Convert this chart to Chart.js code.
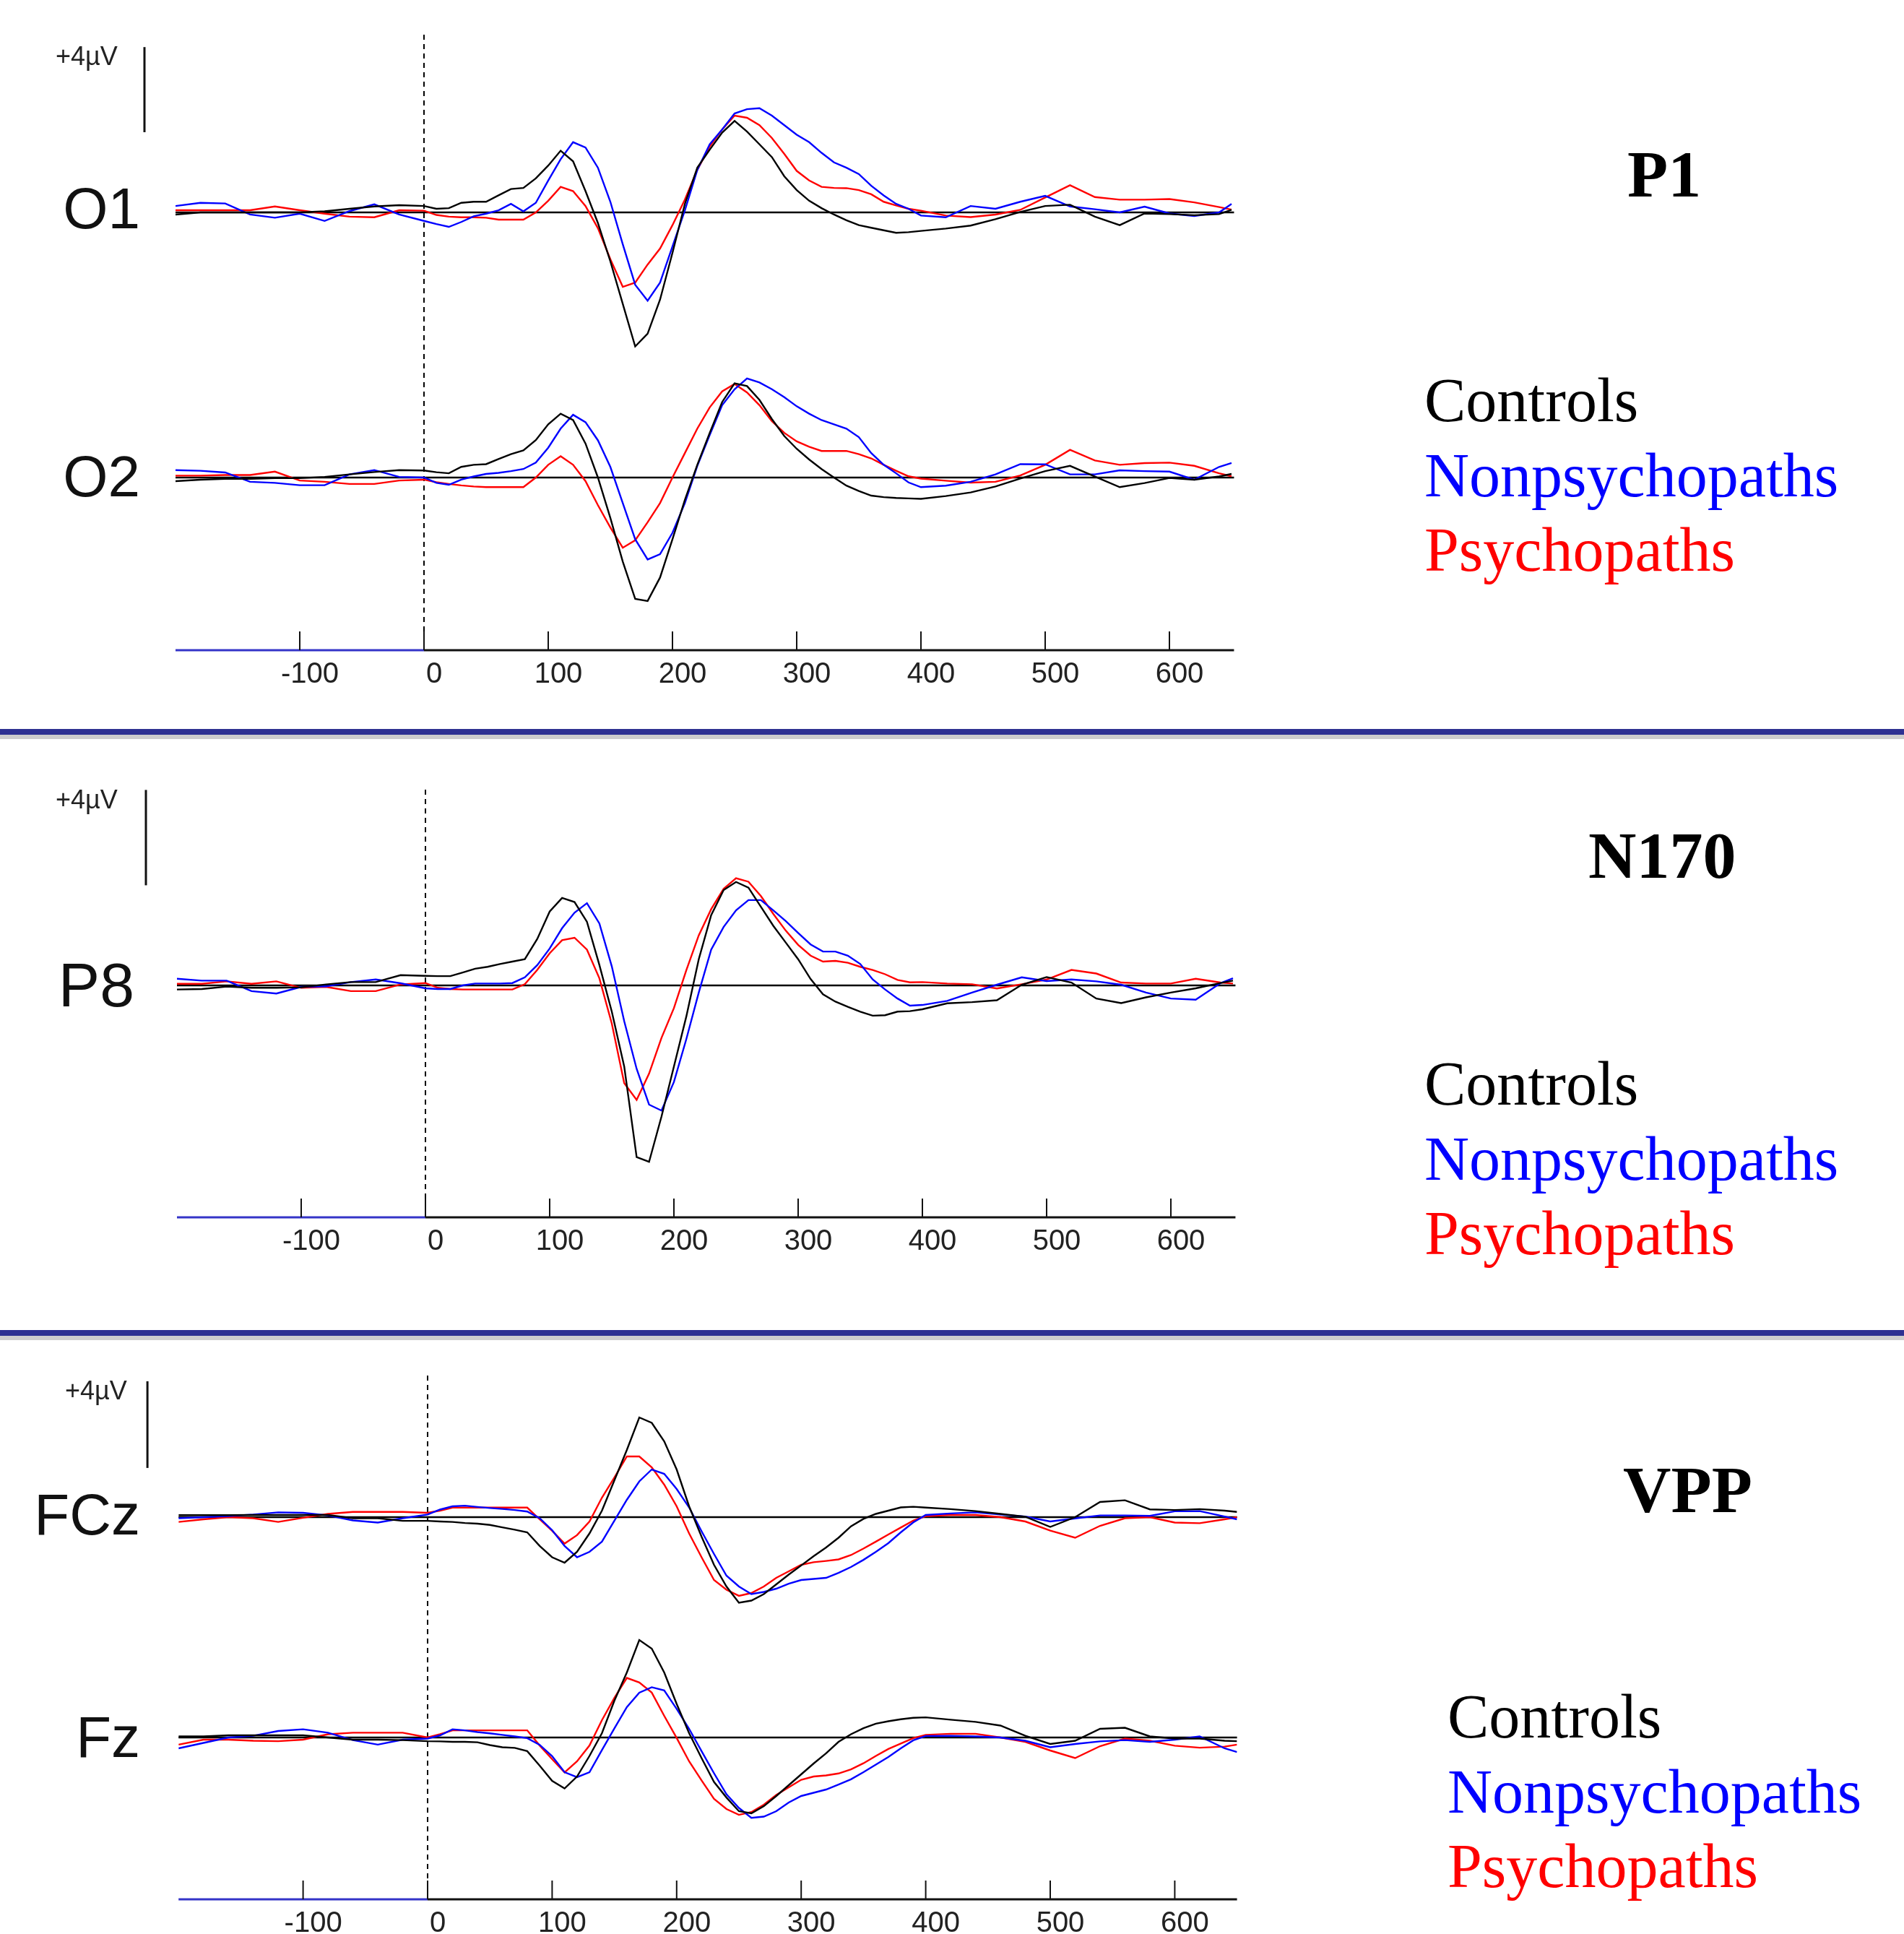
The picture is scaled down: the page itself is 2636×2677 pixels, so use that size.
<!DOCTYPE html>
<html>
<head>
<meta charset="utf-8">
<title>ERP waveforms: P1, N170, VPP</title>
<script src="https://cdn.jsdelivr.net/npm/chart.js@4.4.1/dist/chart.umd.min.js"></script>
<style>
  html, body { margin: 0; padding: 0; background: #fff; }
  body { position: relative; width: 2636px; height: 2677px; overflow: hidden; }
  canvas { position: absolute; left: 0; }
  .t { position: absolute; white-space: nowrap; margin: 0; }
  .chan { left: 0; width: 194px; text-align: right; font: 80px/80px "Liberation Sans", Arial, sans-serif; color: #111; }
  .unit { font: 36px/36px "Liberation Sans", Arial, sans-serif; color: #222; }
  .comp { font: bold 92px/92px "Liberation Serif", "Times New Roman", serif; color: #000; }
  .grp { font: 86px/86px "Liberation Serif", "Times New Roman", serif; }
  .sep { position: absolute; left: 0; width: 2636px; height: 8px; background: #2e3192; border-bottom: 6px solid #cdcdcd; }
</style>
</head>
<body>
<div class="sep" style="top:1009px"></div>
<div class="sep" style="top:1841px"></div>

<canvas id="p1" width="2636" height="970" style="top:0px"></canvas>
<canvas id="p2" width="2636" height="725" style="top:1030px"></canvas>
<canvas id="p3" width="2636" height="817" style="top:1860px"></canvas>

<div class="t unit" style="left:77px;top:60px">+4µV</div>
<div class="t unit" style="left:77px;top:1089px">+4µV</div>
<div class="t unit" style="left:90px;top:1907px">+4µV</div>

<div class="t chan" style="top:249px">O1</div>
<div class="t chan" style="top:620px">O2</div>
<div class="t chan" style="top:1320px;width:186px;font-size:86px;line-height:86px">P8</div>
<div class="t chan" style="top:2057px">FCz</div>
<div class="t chan" style="top:2365px">Fz</div>

<div class="t comp" style="left:2253px;top:195px">P1</div>
<div class="t comp" style="left:2199px;top:1138px">N170</div>
<div class="t comp" style="left:2247px;top:2016px">VPP</div>

<div id="legends"></div>

<script>
// sample times (ms), finer through the components
const times = [-200, -180, -160, -140, -120, -100, -80, -60, -40, -20,
  0, 10, 20, 30, 40, 50, 60, 70, 80, 90,
  100, 110, 120, 130, 140, 150, 160, 170, 180, 190,
  200, 210, 220, 230, 240, 250, 260, 270, 280, 290,
  300, 310, 320, 330, 340, 350, 360, 370, 380, 390,
  400,
  420, 440, 460, 480, 500, 520, 540, 560, 580, 600, 620, 640, 650];

const tickValues = [-100, 0, 100, 200, 300, 400, 500, 600];
const groupNames = ['Controls', 'Nonpsychopaths', 'Psychopaths'];
const groupColors = ['#000000', '#0000ff', '#ff0000'];

// amplitudes in µV, one value per sample time
const o1Ctl = [-0.1, 0, 0, 0, 0, 0, 0.05, 0.17, 0.28, 0.34,
  0.3, 0.17, 0.2, 0.45, 0.5, 0.5, 0.8, 1.1, 1.15, 1.6,
  2.2, 2.9, 2.4, 1.0, -0.5, -2.3, -4.3, -6.3, -5.7, -4.1,
  -1.9, 0.4, 2.1, 2.95, 3.75, 4.3, 3.8, 3.2, 2.6, 1.7,
  1.05, 0.55, 0.2, -0.1, -0.37, -0.6, -0.72, -0.84, -0.96, -0.93,
  -0.87,
  -0.76, -0.62, -0.32, 0.02, 0.3, 0.36, -0.2, -0.6, -0.05, -0.08, -0.13, -0.08, 0.12];
const o1Non = [0.3, 0.45, 0.42, -0.1, -0.25, -0.06, -0.4, 0.06, 0.38, -0.1,
  -0.4, -0.55, -0.68, -0.45, -0.18, -0.06, 0.1, 0.4, 0.05, 0.45,
  1.5, 2.5, 3.3, 3.05, 2.1, 0.5, -1.5, -3.4, -4.15, -3.3,
  -1.6, 0.1, 2.0, 3.2, 3.9, 4.65, 4.85, 4.9, 4.55, 4.1,
  3.65, 3.3, 2.8, 2.35, 2.1, 1.8, 1.25, 0.8, 0.4, 0.17,
  -0.15,
  -0.23, 0.3, 0.17, 0.5, 0.78, 0.28, 0.15, 0.0, 0.27, -0.05, -0.17, 0.0, 0.4];
const o1Psy = [0.1, 0.1, 0.1, 0.1, 0.28, 0.1, -0.06, -0.2, -0.23, 0.1,
  0.08, -0.12, -0.2, -0.23, -0.23, -0.25, -0.34, -0.34, -0.34, 0.0,
  0.55, 1.2, 1.0, 0.3, -0.74, -2.2, -3.5, -3.3, -2.45, -1.7,
  -0.6, 0.6, 2.0, 3.1, 3.9, 4.55, 4.45, 4.1, 3.5, 2.75,
  1.95, 1.5, 1.2, 1.15, 1.14, 1.05, 0.85, 0.5, 0.33, 0.17,
  0.08,
  -0.15, -0.22, -0.1, 0.12, 0.7, 1.28, 0.72, 0.6, 0.6, 0.63, 0.47, 0.25, 0.13];

const o2Ctl = [-0.17, -0.1, -0.06, -0.06, -0.03, -0.03, 0.03, 0.15, 0.26, 0.35,
  0.33, 0.25, 0.2, 0.5, 0.6, 0.63, 0.87, 1.1, 1.28, 1.76,
  2.5, 3.0, 2.7, 1.6, 0.0, -1.9, -3.95, -5.7, -5.8, -4.7,
  -2.9, -1.05, 0.6, 2.1, 3.55, 4.43, 4.3, 3.65, 2.75, 1.95,
  1.35, 0.85, 0.4, 0.0, -0.38, -0.63, -0.85, -0.92, -0.96, -0.98,
  -1.0,
  -0.87, -0.7, -0.42, -0.05, 0.3, 0.55, 0.05, -0.45, -0.26, -0.02, -0.1, 0.05, 0.17];
const o2Non = [0.35, 0.32, 0.24, -0.2, -0.25, -0.36, -0.36, 0.15, 0.35, 0.03,
  0.0, -0.25, -0.34, -0.1, 0.05, 0.17, 0.22, 0.3, 0.4, 0.7,
  1.4, 2.3, 2.95, 2.6, 1.75, 0.5, -1.2, -2.9, -3.85, -3.6,
  -2.6, -1.2, 0.55, 2.0, 3.4, 4.15, 4.66, 4.47, 4.15, 3.78,
  3.35, 3.0, 2.7, 2.5, 2.3, 1.9, 1.15, 0.6, 0.2, -0.23,
  -0.45,
  -0.38, -0.2, 0.15, 0.63, 0.62, 0.15, 0.15, 0.34, 0.3, 0.28, -0.1, 0.5, 0.68];
const o2Psy = [0.09, 0.09, 0.12, 0.12, 0.28, -0.14, -0.2, -0.3, -0.3, -0.14,
  -0.1, -0.22, -0.3, -0.37, -0.42, -0.45, -0.45, -0.45, -0.45, 0.0,
  0.6, 1.0, 0.6, -0.17, -1.3, -2.35, -3.3, -2.95, -2.1, -1.2,
  0.0, 1.15, 2.3, 3.3, 4.05, 4.4, 4.0, 3.4, 2.65, 2.1,
  1.7, 1.45, 1.25, 1.25, 1.25, 1.1, 0.9, 0.6, 0.32, 0.06,
  -0.05,
  -0.15, -0.24, -0.2, 0.1, 0.6, 1.3, 0.8, 0.6, 0.68, 0.7, 0.55, 0.2, 0.06];

const p8Ctl = [-0.17, -0.15, -0.05, -0.1, -0.1, -0.08, 0.04, 0.14, 0.14, 0.43,
  0.4, 0.39, 0.39, 0.54, 0.7, 0.78, 0.9, 1.0, 1.1, 1.95,
  3.1, 3.67, 3.5, 2.67, 0.86, -1.1, -3.4, -7.2, -7.4, -5.5,
  -3.4, -1.3, 1.1, 2.95, 4.0, 4.34, 4.1, 3.3, 2.5, 1.8,
  1.1, 0.27, -0.37, -0.68, -0.9, -1.1, -1.27, -1.25, -1.1, -1.08,
  -1.0,
  -0.75, -0.7, -0.62, 0.03, 0.35, 0.12, -0.55, -0.74, -0.5, -0.3, -0.12, 0.1, 0.2];
const p8Non = [0.28, 0.2, 0.2, -0.24, -0.34, -0.06, -0.04, 0.14, 0.25, 0.09,
  -0.12, -0.15, -0.15, 0.0, 0.08, 0.08, 0.08, 0.1, 0.34, 0.85,
  1.55, 2.4, 3.05, 3.45, 2.6, 0.8, -1.5, -3.5, -5.0, -5.25,
  -4.05, -2.25, -0.3, 1.5, 2.45, 3.15, 3.58, 3.58, 3.15, 2.7,
  2.2, 1.72, 1.42, 1.42, 1.25, 0.9, 0.25, -0.17, -0.55, -0.85,
  -0.82,
  -0.65, -0.3, 0.03, 0.34, 0.18, 0.25, 0.17, 0.03, -0.3, -0.55, -0.6, 0.1, 0.3];
const p8Psy = [0.07, 0.07, 0.17, 0.07, 0.17, -0.1, -0.06, -0.24, -0.24, 0.04,
  0.1, -0.1, -0.15, -0.17, -0.17, -0.17, -0.17, -0.17, 0.05, 0.65,
  1.35, 1.9, 2.0, 1.5, 0.3, -1.6, -4.1, -4.8, -3.7, -2.2,
  -0.95, 0.64, 2.1, 3.2, 4.05, 4.5, 4.35, 3.75, 3.0, 2.3,
  1.7, 1.25, 1.0, 1.03, 0.95, 0.78, 0.65, 0.47, 0.23, 0.13,
  0.14,
  0.08, 0.05, -0.13, 0.05, 0.25, 0.65, 0.5, 0.12, 0.08, 0.08, 0.28, 0.12, 0.08];

const fczCtl = [0.09, 0.09, 0.09, 0.1, 0.1, 0.1, 0.1, -0.05, -0.05, -0.17,
  -0.17, -0.2, -0.22, -0.27, -0.3, -0.36, -0.47, -0.58, -0.7, -1.33,
  -1.85, -2.1, -1.6, -0.75, 0.3, 1.7, 3.1, 4.6, 4.35, 3.5,
  2.2, 0.5, -0.9, -2.2, -3.2, -3.95, -3.85, -3.55, -3.1, -2.65,
  -2.23, -1.8, -1.4, -0.95, -0.42, -0.08, 0.15, 0.3, 0.45, 0.48,
  0.44,
  0.37, 0.28, 0.15, 0.02, -0.45, 0.0, 0.7, 0.78, 0.36, 0.33, 0.37, 0.3, 0.24];
const fczNon = [-0.05, 0.0, 0.05, 0.12, 0.22, 0.2, 0.08, -0.15, -0.25, -0.05,
  0.12, 0.35, 0.5, 0.53, 0.47, 0.42, 0.38, 0.33, 0.26, -0.05,
  -0.6, -1.33, -1.85, -1.6, -1.13, -0.16, 0.8, 1.65, 2.2, 2.0,
  1.3, 0.45, -0.65, -1.7, -2.7, -3.2, -3.55, -3.45, -3.3, -3.07,
  -2.9, -2.85, -2.8, -2.57, -2.3, -1.97, -1.6, -1.2, -0.7, -0.24,
  0.1,
  0.17, 0.22, 0.12, 0.03, -0.2, -0.06, 0.08, 0.08, 0.06, 0.27, 0.28, 0.03, -0.1];
const fczPsy = [-0.22, -0.1, 0.0, -0.05, -0.22, -0.03, 0.15, 0.24, 0.24, 0.24,
  0.2, 0.3, 0.44, 0.44, 0.44, 0.44, 0.44, 0.44, 0.44, -0.1,
  -0.63, -1.22, -0.83, -0.2, 0.9, 1.83, 2.8, 2.8, 2.3, 1.5,
  0.5, -0.75, -1.85, -2.9, -3.35, -3.63, -3.5, -3.2, -2.8, -2.5,
  -2.2, -2.08, -2.02, -1.95, -1.75, -1.45, -1.13, -0.8, -0.48, -0.16,
  0.05,
  0.1, 0.1, 0.0, -0.2, -0.62, -0.95, -0.4, -0.05, 0.0, -0.25, -0.28, -0.1, 0.0];

const fzCtl = [0.05, 0.05, 0.1, 0.1, 0.1, 0.1, 0.0, -0.1, -0.1, -0.12,
  -0.17, -0.18, -0.2, -0.2, -0.22, -0.35, -0.45, -0.48, -0.63, -1.3,
  -2.0, -2.35, -1.8, -0.85, 0.2, 1.7, 3.0, 4.5, 4.1, 3.0,
  1.55, 0.2, -0.95, -2.05, -2.77, -3.4, -3.5, -3.17, -2.7, -2.2,
  -1.7, -1.2, -0.73, -0.2, 0.15, 0.43, 0.64, 0.75, 0.84, 0.91,
  0.93,
  0.82, 0.72, 0.55, 0.08, -0.3, -0.15, 0.4, 0.45, 0.05, -0.05, -0.05, -0.15, -0.17];
const fzNon = [-0.5, -0.25, 0.0, 0.08, 0.3, 0.38, 0.22, -0.12, -0.33, -0.1,
  -0.05, 0.1, 0.38, 0.33, 0.25, 0.19, 0.12, 0.05, -0.03, -0.34,
  -0.86, -1.6, -1.83, -1.6, -0.58, 0.42, 1.4, 2.07, 2.32, 2.17,
  1.32, 0.4, -0.63, -1.65, -2.62, -3.25, -3.71, -3.65, -3.4, -3.0,
  -2.7, -2.55, -2.4, -2.17, -1.93, -1.6, -1.25, -0.9, -0.5, -0.13,
  0.07,
  0.08, 0.05, 0.0, -0.15, -0.45, -0.3, -0.18, -0.12, -0.2, -0.1, 0.05, -0.5, -0.67];
const fzPsy = [-0.33, -0.1, -0.1, -0.15, -0.17, -0.1, 0.15, 0.22, 0.22, 0.22,
  0.0, 0.15, 0.33, 0.33, 0.33, 0.33, 0.33, 0.33, 0.33, -0.37,
  -1.0, -1.61, -1.1, -0.37, 0.8, 1.83, 2.75, 2.54, 2.07, 1.0,
  -0.02, -1.1, -1.98, -2.83, -3.3, -3.57, -3.44, -3.1, -2.65, -2.3,
  -1.95, -1.8, -1.75, -1.66, -1.47, -1.19, -0.85, -0.53, -0.28, -0.03,
  0.12,
  0.17, 0.17, 0.0, -0.2, -0.6, -0.95, -0.4, -0.05, -0.15, -0.38, -0.47, -0.42, -0.33];

// layout of the three panels (page pixels)
const panels = [
  { id: 'p1', top: 0, height: 970, padTop: 48, axisH: 70, x0: 587, msPx: 1.72, xMin: -200, xMax: 652,
    uvPx: 29.45, barFrom: 3.77, legendLeft: 1972, legendTop: 511,
    channels: [{ name: 'O1', base: 294, series: [o1Ctl, o1Non, o1Psy] },
               { name: 'O2', base: 661, series: [o2Ctl, o2Non, o2Psy] }] },
  { id: 'p2', top: 1030, height: 725, padTop: 63, axisH: 70, x0: 589, msPx: 1.72, xMin: -200, xMax: 652,
    uvPx: 33, barFrom: 4.2, legendLeft: 1972, legendTop: 1457,
    channels: [{ name: 'P8', base: 1364, series: [p8Ctl, p8Non, p8Psy] }] },
  { id: 'p3', top: 1860, height: 817, padTop: 44, axisH: 48, x0: 592, msPx: 1.724, xMin: -200, xMax: 650,
    uvPx: 30, barFrom: 2.27, legendLeft: 2004, legendTop: 2333,
    channels: [{ name: 'FCz', base: 2100, series: [fczCtl, fczNon, fczPsy] },
               { name: 'Fz', base: 2405, series: [fzCtl, fzNon, fzPsy] }] }
];

// baselines, onset marker, time axis and calibration bar
const erpFrame = {
  id: 'erpFrame',
  beforeDatasetsDraw(chart, args, opts) {
    const { ctx, chartArea: area, scales } = chart;
    const x = scales.x;
    const xl = x.getPixelForValue(x.min), xr = x.getPixelForValue(x.max), x0 = x.getPixelForValue(0);
    const seg = (a, b, c, d) => { ctx.beginPath(); ctx.moveTo(a, b); ctx.lineTo(c, d); ctx.stroke(); };
    ctx.save();
    ctx.strokeStyle = '#000';
    ctx.lineWidth = 2.5;
    opts.channels.forEach(id => {
      const y = scales[id].getPixelForValue(0);
      seg(xl, y, xr, y);
    });
    ctx.lineWidth = 2;
    ctx.setLineDash([7, 6]);
    seg(x0, area.top, x0, area.bottom);
    ctx.setLineDash([]);
    ctx.lineWidth = 3;
    ctx.strokeStyle = '#3434c8';
    seg(xl, area.bottom, x0, area.bottom);
    ctx.strokeStyle = '#111';
    seg(x0, area.bottom, xr, area.bottom);
    ctx.lineWidth = 2;
    tickValues.forEach(v => {
      const px = x.getPixelForValue(v);
      seg(px, area.bottom, px, area.bottom - 26);
    });
    const ys = scales[opts.channels[0]];
    const bx = x.getPixelForValue(opts.barAt);
    ctx.lineWidth = 3;
    seg(bx, ys.getPixelForValue(opts.barFrom), bx, ys.getPixelForValue(opts.barFrom + 4));
    ctx.restore();
  }
};

function buildPanel(p) {
  const top = p.top + p.padTop;
  const bottom = p.top + p.height - p.axisH;
  const scales = {
    x: {
      type: 'linear', min: p.xMin, max: p.xMax,
      grid: { display: false }, border: { display: false },
      afterBuildTicks: s => { s.ticks = tickValues.map(v => ({ value: v })); },
      afterFit: s => { s.height = p.axisH; },
      ticks: { padding: 2, labelOffset: 14, autoSkip: false, maxRotation: 0, color: '#222',
               font: { family: '"Liberation Sans Narrow", "Liberation Sans", Arial, sans-serif', size: 40 },
               callback: v => String(v) }
    }
  };
  const datasets = [];
  p.channels.forEach(ch => {
    const id = 'y' + ch.name;
    scales[id] = { type: 'linear', axis: 'y', display: false,
                   min: -(bottom - ch.base) / p.uvPx, max: (ch.base - top) / p.uvPx };
    ch.series.forEach((vals, g) => {
      datasets.push({
        label: groupNames[g] + ' ' + ch.name,
        data: times.map((t, i) => ({ x: t, y: vals[i] })),
        yAxisID: id,
        borderColor: groupColors[g],
        borderWidth: 2.4,
        pointRadius: 0,
        tension: 0,
        fill: false
      });
    });
  });
  const left = p.x0 + p.xMin * p.msPx;
  const right = p.x0 + p.xMax * p.msPx;
  new Chart(document.getElementById(p.id), {
    type: 'line',
    data: { datasets },
    options: {
      responsive: false,
      animation: false,
      devicePixelRatio: 1,
      layout: { padding: { left: left, right: 2636 - right, top: p.padTop, bottom: 0 } },
      scales,
      plugins: {
        legend: { display: false },
        tooltip: { enabled: false },
        erpFrame: { channels: p.channels.map(c => 'y' + c.name), barAt: -225, barFrom: p.barFrom }
      }
    },
    plugins: [erpFrame]
  });

  // group legend, one line per group
  const holder = document.getElementById('legends');
  groupNames.forEach((name, g) => {
    const d = document.createElement('div');
    d.className = 't grp';
    d.style.left = p.legendLeft + 'px';
    d.style.top = (p.legendTop + g * 103.5) + 'px';
    d.style.color = groupColors[g];
    d.textContent = name;
    holder.appendChild(d);
  });
}

panels.forEach(buildPanel);
</script>
</body>
</html>
